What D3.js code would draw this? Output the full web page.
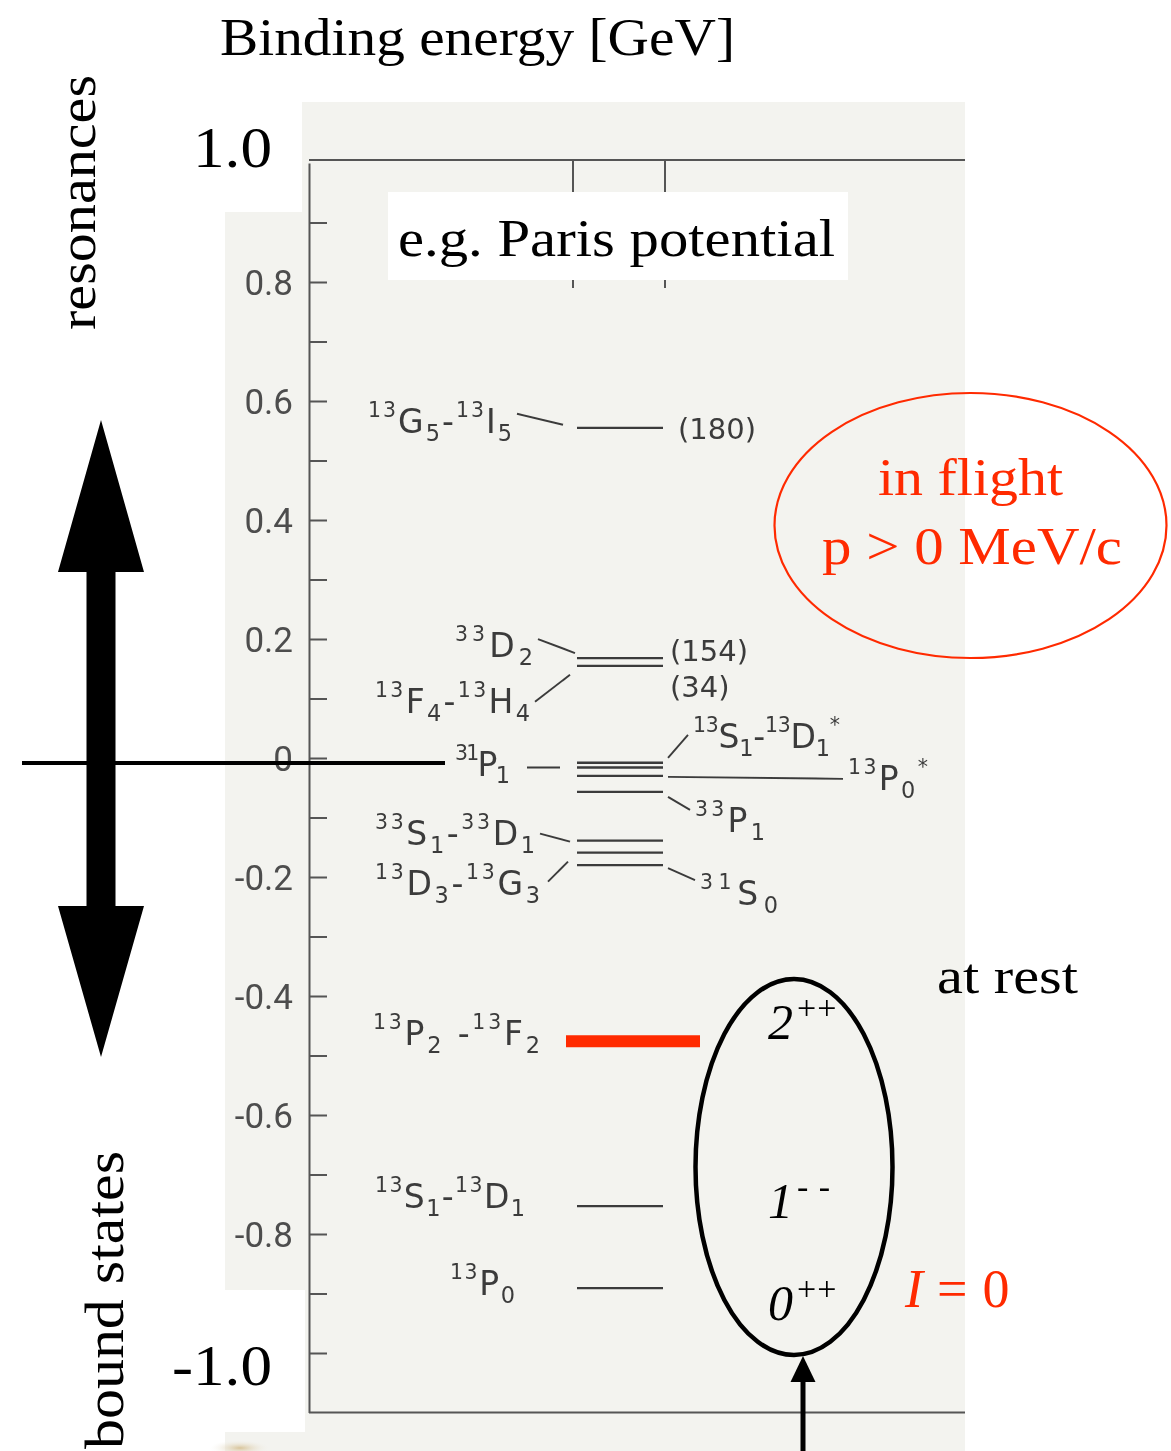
<!DOCTYPE html>
<html><head><meta charset="utf-8">
<script src="https://cdn.jsdelivr.net/npm/d3@7/dist/d3.min.js"></script>
<style>html,body{margin:0;padding:0;background:#fff}svg{display:block}</style>
</head><body>
<svg id="chart" width="1171" height="1451"></svg>
<script>
// ---------------- data ----------------
// binding-energy axis [GeV]
const energyDomain = [-1.1, 1.0];
const majorTicks = [0.8, 0.6, 0.4, 0.2, 0, -0.2, -0.4, -0.6, -0.8];
const majorTickLabels = ["0.8", "0.6", "0.4", "0.2", "0", "-0.2", "-0.4", "-0.6", "-0.8"];
const minorTicks = [0.9, 0.7, 0.5, 0.3, 0.1, -0.1, -0.3, -0.5, -0.7, -0.9, -1.0];
const endTicks = [1.0, -1.0];
const endTickLabels = ["1.0", "-1.0"];

// NN̄ states of the Paris potential (^ = superscript, _ = subscript)
const levelStates = [
  "^13G_5-^13I_5", "^33D_2", "^13F_4-^13H_4",
  "^13S_1-^13D_1^*", "^31P_1", "^13P_0^*", "^33P_1",
  "^33S_1-^33D_1", "^13D_3-^13G_3", "^31S_0",
  "^13P_2 -^13F_2", "^13S_1-^13D_1", "^13P_0"
];
// level energies [GeV]
const levelEnergies = [
  0.555, 0.168, 0.155,
  -0.008, -0.016, -0.030, -0.057,
  -0.139, -0.159, -0.180,
  -0.476, -0.753, -0.891
];
// level widths [MeV]
const levelWidths = [180, 154, 34, null, null, null, null, null, null, null, null, null, null];
const highlightedState = "^13P_2 -^13F_2";

// J^PC of the states reached at rest
const restJ = ["2", "1", "0"];
const restPC = ["++", "- -", "++"];

// ---------------- layout ----------------
const W = 1171, H = 1451;
const svg = d3.select("#chart");
const y = d3.scaleLinear().domain(energyDomain).range([1412.5, 163]);
const axisX = 309, frameRight = 965;
const colX = [577, 663];
const scanInk = "#3b3b3b";
const red = "#ff2a00";
const serif = "'Liberation Serif', 'DejaVu Serif', serif";
const sans = "Roboto, 'DejaVu Sans', sans-serif";
const lettering = "'DejaVu Sans', sans-serif";

// label placement for each level: text start x, baseline offset, connector, width label
const labelLayout = [
  {x: 368, dy: 5,  w: 144, conn: [517, -14, 563, -3], wx: 678, wdy: 11},
  {x: 455, dy: -1, w: 78,  conn: [538, -19, 575, -5], wx: 670, wdy: 3},
  {x: 375, dy: 47, w: 155, conn: [535, 36, 570, 9],   wx: 670, wdy: 31},
  {x: 693, dy: -15, w: 147, conn: [668, -5, 688, -28]},
  {x: 455, dy: 8,  w: 55,  conn: [527, 0, 560, 0]},
  {x: 848, dy: 14, w: 80,  conn: [668, 1, 843, 3]},
  {x: 695, dy: 40, w: 70,  conn: [668, 5, 690, 18]},
  {x: 375, dy: 4,  w: 160, conn: [540, -7, 570, 1]},
  {x: 375, dy: 42, w: 165, conn: [548, 29, 568, 9]},
  {x: 700, dy: 40, w: 78,  conn: [668, 3, 695, 15]},
  {x: 373, dy: 4,  w: 167},
  {x: 375, dy: 2,  w: 150},
  {x: 450, dy: 7,  w: 65}
];

// ---------------- scanned figure ----------------
const defs = svg.append("defs");
defs.append("filter").attr("id", "soft")
  .append("feGaussianBlur").attr("stdDeviation", 0.45);

// paper
svg.append("rect").attr("x", 225).attr("y", 102).attr("width", 740).attr("height", H - 102)
  .attr("fill", "#f3f3ef");
const smudge = defs.append("radialGradient").attr("id", "smudge");
smudge.append("stop").attr("offset", "0%").attr("stop-color", "#d8c49a");
smudge.append("stop").attr("offset", "100%").attr("stop-color", "#f3f3ef").attr("stop-opacity", 0);
svg.append("ellipse").attr("cx", 240).attr("cy", 1448).attr("rx", 30).attr("ry", 8).attr("fill", "url(#smudge)");

const scan = svg.append("g").attr("filter", "url(#soft)");

// frame
scan.append("line").attr("x1", axisX).attr("x2", frameRight).attr("y1", y(1.0) - 3).attr("y2", y(1.0) - 3)
  .attr("stroke", "#555").attr("stroke-width", 2);
scan.append("line").attr("x1", axisX).attr("x2", frameRight).attr("y1", y(-1.1)).attr("y2", y(-1.1))
  .attr("stroke", "#555").attr("stroke-width", 2);
[573, 665].forEach(x => scan.append("line").attr("x1", x).attr("x2", x)
  .attr("y1", y(1.0) - 3).attr("y2", y(0.79)).attr("stroke", "#555").attr("stroke-width", 2));

// energy axis: minor ticks, then labelled major ticks
const minorAxis = d3.axisLeft(y).tickValues(minorTicks).tickSizeInner(-18).tickSizeOuter(0).tickFormat("");
const majorAxis = d3.axisLeft(y).tickValues(majorTicks).tickSizeInner(-18).tickSizeOuter(0).tickPadding(16)
  .tickFormat((d, i) => majorTickLabels[i]);
const gMinor = scan.append("g").attr("transform", `translate(${axisX},0)`).call(minorAxis);
const gMajor = scan.append("g").attr("transform", `translate(${axisX},0)`).call(majorAxis);
[gMinor, gMajor].forEach(g => {
  g.selectAll("path.domain").attr("stroke", "#555").attr("stroke-width", 2);
  g.selectAll(".tick line").attr("stroke", "#555").attr("stroke-width", 2);
});
gMinor.select("path.domain").remove();
gMajor.selectAll(".tick text").attr("font-family", sans).attr("font-size", 35)
  .attr("fill", "#4e4e4e").attr("dy", "0.36em");

// rich label with super/subscripts
function richText(sel, spec, size) {
  const re = /\^([0-9*]+)|_(.)|([^\^_]+)/g;
  let m, shift = 0;
  while ((m = re.exec(spec))) {
    let target, txt, fs;
    if (m[1] !== undefined) { target = -0.48 * size; txt = m[1]; fs = 0.62 * size; }
    else if (m[2] !== undefined) { target = 0.24 * size; txt = m[2]; fs = 0.68 * size; }
    else { target = 0; txt = m[3]; fs = size; }
    sel.append("tspan").attr("dy", target - shift).attr("font-size", fs).text(txt);
    shift = target;
  }
}

// levels
const levels = levelStates.map((s, i) => ({state: s, e: levelEnergies[i], width: levelWidths[i], lay: labelLayout[i]}));
const lv = scan.selectAll("g.level").data(levels).join("g").attr("class", "level");
lv.filter(d => d.state !== highlightedState).append("line")
  .attr("x1", colX[0]).attr("x2", colX[1])
  .attr("y1", d => y(d.e)).attr("y2", d => y(d.e))
  .attr("stroke", scanInk).attr("stroke-width", 2.3);
lv.filter(d => d.lay.conn).append("line")
  .attr("x1", d => d.lay.conn[0]).attr("y1", d => y(d.e) + d.lay.conn[1])
  .attr("x2", d => d.lay.conn[2]).attr("y2", d => y(d.e) + d.lay.conn[3])
  .attr("stroke", scanInk).attr("stroke-width", 1.9);
lv.append("text")
  .attr("x", d => d.lay.x).attr("y", d => y(d.e) + d.lay.dy)
  .attr("font-family", lettering).attr("fill", scanInk)
  .attr("textLength", d => d.lay.w).attr("lengthAdjust", "spacing")
  .each(function (d) { richText(d3.select(this), d.state, 33); });
lv.filter(d => d.width != null).append("text")
  .attr("x", d => d.lay.wx).attr("y", d => y(d.e) + d.lay.wdy)
  .attr("font-family", lettering).attr("font-size", 29).attr("fill", scanInk)
  .text(d => `(${d.width})`);

// ---------------- overlay annotations ----------------
// white patches around the end labels
svg.append("rect").attr("x", 0).attr("y", 0).attr("width", 302).attr("height", 212).attr("fill", "#fff");
svg.append("rect").attr("x", 0).attr("y", 1290).attr("width", 305).attr("height", 142).attr("fill", "#fff");

// title
svg.append("text").attr("x", 220).attr("y", 55).attr("font-family", serif).attr("font-size", 52)
  .attr("textLength", 515).attr("lengthAdjust", "spacingAndGlyphs").text("Binding energy [GeV]");

// axis end labels
svg.selectAll("text.endlab").data(endTicks).join("text").attr("class", "endlab")
  .attr("x", d => d > 0 ? 193 : 172).attr("y", d => y(d) + (d > 0 ? 4 : 32))
  .attr("font-family", serif).attr("font-size", 58)
  .attr("textLength", d => d > 0 ? 79 : 100).attr("lengthAdjust", "spacingAndGlyphs")
  .text((d, i) => endTickLabels[i]);

// side labels
svg.append("text").attr("transform", `translate(95,330) rotate(-90)`)
  .attr("font-family", serif).attr("font-size", 52)
  .attr("textLength", 255).attr("lengthAdjust", "spacingAndGlyphs").text("resonances");
svg.append("text").attr("transform", `translate(123,1449) rotate(-90)`)
  .attr("font-family", serif).attr("font-size", 55)
  .attr("textLength", 298).attr("lengthAdjust", "spacingAndGlyphs").text("bound states");

// potential name box
svg.append("rect").attr("x", 388).attr("y", 192).attr("width", 460).attr("height", 88).attr("fill", "#fff");
svg.append("text").attr("x", 398).attr("y", 256).attr("font-family", serif).attr("font-size", 52)
  .attr("textLength", 437).attr("lengthAdjust", "spacingAndGlyphs").text("e.g. Paris potential");

// double arrow: resonances above threshold, bound states below
const ax = 101;
const arrowPath = d3.path();
arrowPath.moveTo(ax, 420); arrowPath.lineTo(ax + 43, 572); arrowPath.lineTo(ax + 14.5, 572);
arrowPath.lineTo(ax + 14.5, 906); arrowPath.lineTo(ax + 43, 906); arrowPath.lineTo(ax, 1057);
arrowPath.lineTo(ax - 43, 906); arrowPath.lineTo(ax - 14.5, 906); arrowPath.lineTo(ax - 14.5, 572);
arrowPath.lineTo(ax - 43, 572); arrowPath.closePath();
svg.append("path").attr("d", arrowPath.toString()).attr("fill", "#000");

// threshold line
svg.append("line").attr("x1", 22).attr("x2", 445).attr("y1", y(0) + 5).attr("y2", y(0) + 5)
  .attr("stroke", "#000").attr("stroke-width", 4);

// highlighted level
const hi = levels.find(d => d.state === highlightedState);
svg.append("line").attr("x1", 566).attr("x2", 700).attr("y1", y(hi.e)).attr("y2", y(hi.e))
  .attr("stroke", red).attr("stroke-width", 12);

// in-flight annotation
svg.append("ellipse").attr("cx", 970.5).attr("cy", 525.5).attr("rx", 196).attr("ry", 132.5)
  .attr("fill", "none").attr("stroke", red).attr("stroke-width", 2.2);
svg.append("text").attr("x", 878).attr("y", 495).attr("font-family", serif).attr("font-size", 52)
  .attr("fill", red).attr("textLength", 185).attr("lengthAdjust", "spacingAndGlyphs").text("in flight");
svg.append("text").attr("x", 822).attr("y", 564).attr("font-family", serif).attr("font-size", 52)
  .attr("fill", red).attr("textLength", 300).attr("lengthAdjust", "spacingAndGlyphs").text("p > 0 MeV/c");

// at-rest annotation
svg.append("text").attr("x", 937).attr("y", 993).attr("font-family", serif).attr("font-size", 50)
  .attr("textLength", 141).attr("lengthAdjust", "spacingAndGlyphs").text("at rest");
svg.append("ellipse").attr("cx", 794).attr("cy", 1167).attr("rx", 98.5).attr("ry", 188)
  .attr("fill", "none").attr("stroke", "#000").attr("stroke-width", 4.5);
const restY = [1039, 1218, 1320];
restJ.forEach((j, i) => {
  const t = svg.append("text").attr("x", 768).attr("y", restY[i]).attr("font-family", serif).attr("font-size", 50);
  t.append("tspan").attr("font-style", "italic").text(j);
  t.append("tspan").attr("dx", 4).attr("dy", -20).attr("font-size", 34).attr("letter-spacing", 1).text(restPC[i]);
});
svg.append("text").attr("x", 905).attr("y", 1307).attr("font-family", serif).attr("font-size", 54)
  .attr("fill", red)
  .call(t => {
    t.append("tspan").attr("font-style", "italic").text("I");
    t.append("tspan").attr("dx", 14).text("=");
    t.append("tspan").attr("dx", 15).text("0");
  });

// incoming arrow into the at-rest states
svg.append("line").attr("x1", 803).attr("x2", 803).attr("y1", H).attr("y2", 1378)
  .attr("stroke", "#000").attr("stroke-width", 5);
svg.append("path").attr("d", "M803,1356 L815.5,1382 L790.5,1382 Z").attr("fill", "#000");
</script>
</body></html>
